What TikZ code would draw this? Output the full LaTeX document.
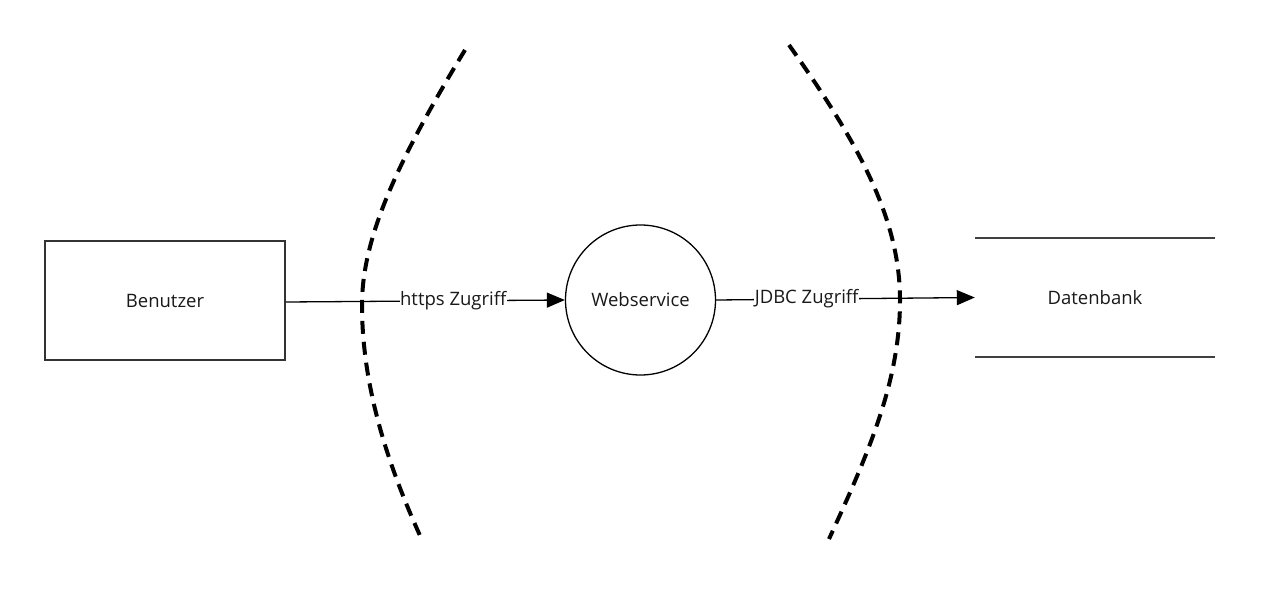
\documentclass[tikz,border=0pt]{standalone}
\usepackage{fontspec}
\setmainfont{Open Sans}
\usetikzlibrary{arrows.meta}
\begin{document}
\begin{tikzpicture}[x=1pt,y=-1pt,
  lbl/.style={font=\fontsize{18.5}{22}\selectfont, text=black!90},
  boxst/.style={draw=black!80, line width=1.6pt, minimum width=240pt, minimum height=119pt, inner sep=0pt},
  circst/.style={draw=black, line width=1.3pt, circle, minimum size=150pt, inner sep=0pt},
  conn/.style={draw=black, line width=1.3pt, -{Triangle[length=18pt,width=15pt]}},
  edgelbl/.style={lbl, fill=white, inner sep=0.5pt},
  boundary/.style={draw=black, line width=4pt, dash pattern=on 13pt off 8pt},
  dbline/.style={draw=black!75, line width=1.6pt}
]
\useasboundingbox (0,0) rectangle (1275,591);
\fill[white] (0,0) rectangle (1275,591);

\node[boxst, lbl] (b) at (165,300.5) {Benutzer};
\node[circst, lbl] (w) at (640.5,300) {Webservice};
\node[lbl, minimum width=240pt, minimum height=119pt, inner sep=0pt] (d) at (1095,297.5) {Datenbank};
\draw[dbline] (d.north west) -- (d.north east);
\draw[dbline] (d.south west) -- (d.south east);

% boundaries
\draw[boundary] (465,50) .. controls (395,165) and (362,240) .. (362,305)
  .. controls (362,390) and (390,470) .. (422,540);
\draw[boundary] (789,45) .. controls (860,145) and (900,220) .. (900,300)
  .. controls (900,380) and (870,450) .. (829,539);

% connectors
\coordinate (b1) at (b.east |- 0,302);
\draw[conn] (b1) -- node[edgelbl, pos=0.6] {https Zugriff} (w.west);
\draw[conn] (w.east) -- node[edgelbl, pos=0.35] {JDBC Zugriff} (d.west);
\end{tikzpicture}
\end{document}
